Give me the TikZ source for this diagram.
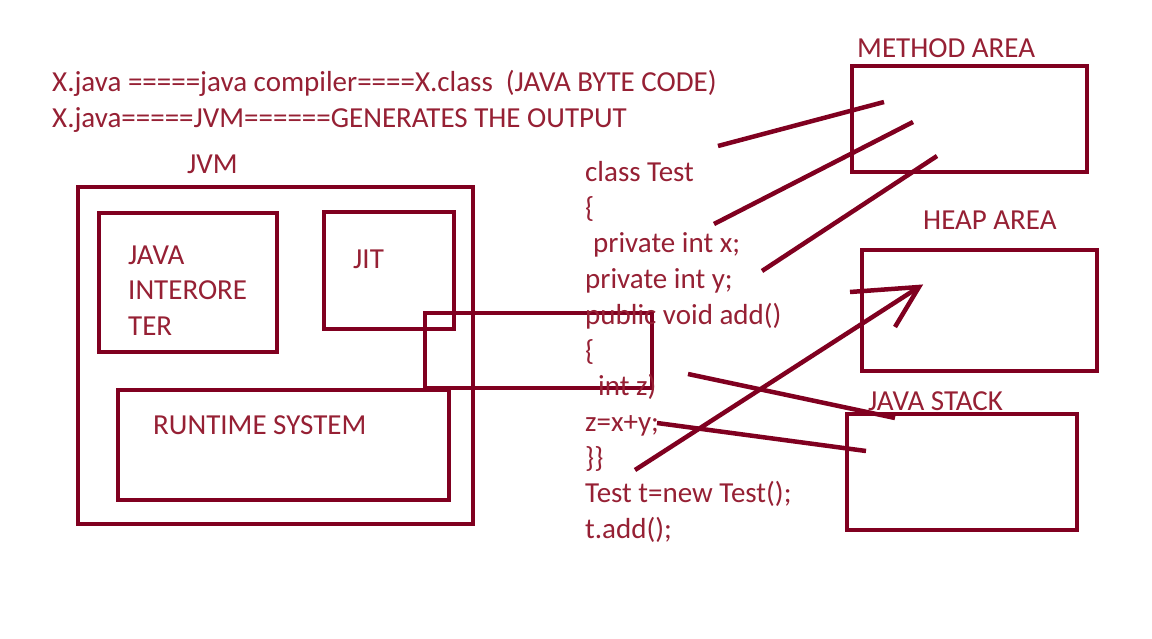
\documentclass[tikz,border=0pt]{standalone}
\usepackage{fontspec}
\setmainfont{Carlito}
\usetikzlibrary{positioning}
\definecolor{maroon}{RGB}{128,0,32}
\definecolor{ink}{RGB}{150,32,52}

\begin{document}
\begin{tikzpicture}[x=1pt,y=-1pt,
    font=\fontsize{29}{34}\selectfont,
    box/.style={draw=maroon,line width=4.5pt,outer sep=0pt,inner sep=0pt,anchor=north west},
    txt/.style={text=ink,anchor=base west,inner sep=0pt},
    link/.style={draw=maroon,line width=4.5pt}
]
\useasboundingbox[fill=white] (0,0) rectangle (1152,639);
% compile flow
\node[txt] (flow1) at (52,91.5) {X.java =====java compiler====X.class\ \ (JAVA BYTE CODE)};
\node[txt] (flow2) at (52,127.5) {X.java=====JVM======GENERATES THE OUTPUT};
% jvm block
\node[txt] (jvmlab) at (187,174) {JVM};
\node[box,minimum width=395pt,minimum height=337pt] (jvm) at (78,187) {};
\node[box,minimum width=178pt,minimum height=139pt] (interp) at (99,213) {};
\node[txt] (interp1) at (128,265) {JAVA};
\node[txt] (interp2) at (128,300) {INTERORE};
\node[txt] (interp3) at (128,335) {TER};
\node[box,minimum width=130pt,minimum height=117pt] (jit) at (324,212) {};
\node[txt] (jitlab) at (353,269) {JIT};
\node[box,minimum width=331pt,minimum height=110pt] (runtime) at (118,390) {};
\node[txt] (runlab) at (153,434) {RUNTIME SYSTEM};
\node[box,minimum width=227pt,minimum height=75pt] (loader) at (425,313) {};
% program
\node[txt] (code1) at (585,181.5) {class Test};
\node[txt] (code2) at (585,217.2) {\{};
\node[txt] (code3) at (585,252.9) {\hspace*{8pt}private int x;};
\node[txt] (code4) at (585,288.6) {private int y;};
\node[txt] (code5) at (585,324.3) {public void add()};
\node[txt] (code6) at (585,360) {\{};
\node[txt] (code7) at (585,395.7) {\hspace*{13pt}int z)};
\node[txt] (code8) at (585,431.4) {z=x+y;};
\node[txt] (code9) at (585,467.1) {\}\}};
\node[txt] (code10) at (585,502.8) {Test t=new Test();};
\node[txt] (code11) at (585,538.5) {t.add();};
% memory areas
\node[txt] (methodlab) at (857,58) {METHOD AREA};
\node[box,minimum width=235pt,minimum height=106pt] (method) at (852,66) {};
\node[txt] (heaplab) at (923,230) {HEAP AREA};
\node[box,minimum width=235pt,minimum height=121pt] (heap) at (862,250) {};
\node[txt] (stacklab) at (868,410) {JAVA STACK};
\node[box,minimum width=230pt,minimum height=116pt] (stack) at (847,414) {};
% line ends
\coordinate (clsend) at (718,146);
\coordinate (clstip) at (884,102);
\coordinate (xend) at (714,224);
\coordinate (xtip) at (913,122);
\coordinate (yend) at (762,271);
\coordinate (ytip) at (937,156);
\coordinate (newend) at (635,470);
\coordinate (newtip) at (919,287);
\coordinate (barbl) at (850,292);
\coordinate (barbd) at (895,327);
\coordinate (zend) at (688,374);
\coordinate (ztip) at (895,418);
\coordinate (sumend) at (657,423);
\coordinate (sumtip) at (866,451);
\draw[link] (clsend) -- (clstip);
\draw[link] (xend) -- (xtip);
\draw[link] (yend) -- (ytip);
\draw[link] (newend) -- (newtip);
\draw[link] (barbl) -- (newtip) -- (barbd);
\draw[link] (zend) -- (ztip);
\draw[link] (sumend) -- (sumtip);
\end{tikzpicture}
\end{document}
